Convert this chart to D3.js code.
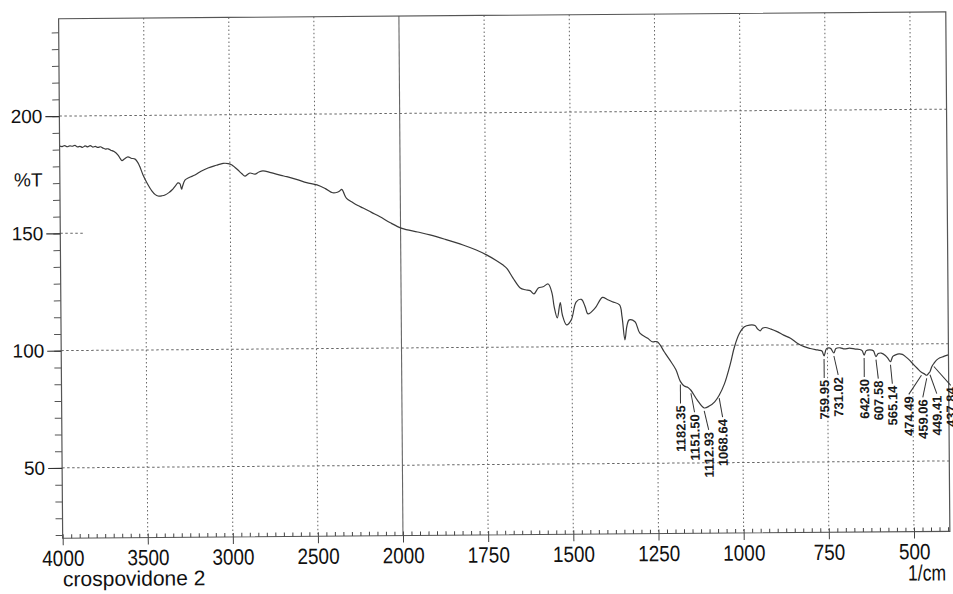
<!DOCTYPE html>
<html>
<head>
<meta charset="utf-8">
<script src="https://cdn.jsdelivr.net/npm/d3@7"></script>
<style>
  html, body { margin: 0; padding: 0; background: #fff; }
  svg { display: block; }
</style>
</head>
<body>
<svg id="chart" width="953" height="594"></svg>
<script>
// FTIR transmittance spectrum, crospovidone sample 2

const sampleName = "crospovidone 2";
const yTitle = "%T";
const xUnit = "1/cm";

const xMajorTicks = [4000, 3500, 3000, 2500, 2000, 1750, 1500, 1250, 1000, 750, 500];
const yMajorTicks = [50, 100, 150, 200];

// wavenumber (1/cm), descending
const wavenumbers = [
  4000, 3985, 3970, 3955, 3940, 3925, 3910, 3895, 3880, 3865, 3850, 3835, 3820, 3805, 3790, 3775,
  3760, 3745, 3730, 3715, 3700, 3680, 3657, 3645, 3634, 3620, 3599, 3580, 3557, 3540, 3529, 3511,
  3488, 3459, 3440, 3424, 3400, 3383, 3360, 3342, 3320, 3306, 3295, 3285, 3280, 3265, 3240, 3206,
  3170, 3129, 3080, 3040, 3010, 2988, 2970, 2953, 2930, 2912, 2895, 2882, 2853, 2830, 2806, 2760,
  2700, 2666, 2600, 2550, 2489, 2440, 2397, 2370, 2356, 2345, 2338, 2330, 2316, 2280, 2250, 2219,
  2170, 2120, 2060, 1996, 1950, 1914, 1870, 1817, 1780, 1747, 1720, 1700, 1689, 1671, 1650, 1635,
  1621, 1610, 1597, 1583, 1568, 1557, 1551, 1542, 1533, 1527, 1515, 1501, 1486, 1471, 1460, 1452,
  1431, 1409, 1395, 1380, 1359, 1352, 1344, 1338, 1331, 1314, 1300, 1277, 1264, 1249, 1229, 1213,
  1195, 1182.35, 1171, 1160, 1151.50, 1133, 1112.93, 1098, 1082, 1068.64, 1053, 1035, 1023, 1008, 993, 978,
  962, 955, 947, 940, 932, 915, 897, 878, 858, 838, 818, 800, 785, 774, 766, 759.95,
  753, 745, 740, 731.02, 725, 712, 700, 685, 668, 655, 648, 642.30, 636, 625, 615, 607.58,
  601, 592, 580, 572, 565.14, 558, 550, 540, 530, 520, 510, 498, 486, 474.49, 466, 459.06,
  453, 449.41, 444, 437.84, 430, 420, 410, 400, 395
];

// transmittance (%T) at each wavenumber above
const transmittance = [
  187.2, 187.0, 187.4, 186.9, 187.3, 187.1, 187.5, 186.8, 187.0, 186.6, 187.2, 186.8, 187.3, 186.7, 187.0, 186.5,
  186.8, 186.2, 185.8, 185.9, 185.3, 184.7, 183.2, 181.8, 180.8, 181.5, 182.4, 181.8, 181.4, 179.8, 178.1, 174.6,
  171.2, 167.7, 166.2, 165.6, 165.7, 166.0, 167.0, 168.1, 170.0, 171.1, 170.8, 168.4, 169.5, 172.3, 173.4, 174.4,
  176.0, 177.4, 178.5, 179.3, 179.2, 178.6, 177.5, 176.4, 174.8, 173.8, 174.6, 175.1, 174.6, 175.5, 176.0, 175.2,
  174.0, 173.4, 172.0, 170.8, 169.8, 168.2, 166.4, 166.6, 167.1, 167.8, 167.3, 165.9, 164.0, 162.2, 160.9, 159.8,
  157.9, 156.0, 153.4, 151.0, 149.4, 148.1, 146.2, 143.7, 141.6, 139.3, 137.0, 135.0, 133.6, 129.4, 125.2, 124.4,
  124.0, 122.6, 125.1, 125.6, 126.8, 122.9, 117.1, 112.3, 118.8, 113.5, 109.3, 111.4, 119.1, 120.1, 117.0, 113.9,
  116.3, 120.9, 120.0, 119.0, 117.6, 112.6, 102.7, 108.5, 111.2, 110.4, 105.5, 103.3, 101.8, 101.8, 97.5, 94.0,
  89.8, 84.8, 82.8, 82.2, 81.0, 76.8, 73.4, 74.2, 76.0, 78.8, 83.6, 92.2, 99.2, 105.0, 107.9, 108.6,
  108.4, 107.0, 106.1, 107.2, 107.5, 106.8, 105.7, 104.2, 102.8, 100.7, 99.2, 98.4, 97.9, 97.6, 97.3, 95.2,
  98.2, 98.6, 98.3, 96.4, 98.3, 98.6, 98.1, 98.4, 98.0, 97.8, 97.3, 95.4, 97.3, 97.6, 97.2, 94.7,
  96.0, 96.2, 95.2, 93.8, 92.5, 94.8, 95.4, 95.8, 95.6, 94.5, 93.2, 91.3, 89.5, 87.9, 87.2, 86.6,
  87.5, 88.1, 90.2, 91.6, 93.0, 94.0, 94.5, 95.0, 95.2
];

// picked peaks (1/cm)
const peakWavenumbers = [1182.35, 1151.50, 1112.93, 1068.64, 759.95, 731.02, 642.30, 607.58, 565.14, 474.49, 459.06, 449.41, 437.84];
const peakLabels = ["1182.35", "1151.50", "1112.93", "1068.64", "759.95", "731.02", "642.30", "607.58", "565.14", "474.49", "459.06", "449.41", "437.84"];

const FONT = "'Liberation Sans', Arial, Helvetica, sans-serif";

const svg = d3.select("#chart");
svg.append("rect").attr("width", 953).attr("height", 594).attr("fill", "#fff");

// whole sheet sits slightly tilted
const g = svg.append("g").attr("transform", "rotate(-0.45 476 297)");

const plotLeft = 60.8, plotRight = 948, plotTop = 15.5, plotBottom = 535;

// compressed scale above 2000 1/cm, expanded below
const x = d3.scaleLinear().domain([4000, 2000, 395]).range([plotLeft, 401.1, 947.9]);
const y = d3.scaleLinear().domain([20, 241.5]).range([plotBottom, plotTop]);

// ---- grid ----
const grid = g.append("g");
grid.selectAll("line.vgrid")
  .data(xMajorTicks.filter(d => d !== 4000))
  .join("line")
  .attr("x1", d => x(d)).attr("x2", d => x(d))
  .attr("y1", plotTop).attr("y2", plotBottom)
  .attr("stroke", d => d === 2000 ? "#666" : "#666")
  .attr("stroke-width", d => d === 2000 ? 1.1 : 1)
  .attr("stroke-dasharray", d => d === 2000 ? null : "1.5,2.5");

grid.selectAll("line.hgrid")
  .data(yMajorTicks)
  .join("line")
  .attr("x1", plotLeft)
  .attr("x2", d => d === 150 ? plotLeft + 24 : plotRight)
  .attr("y1", d => y(d)).attr("y2", d => y(d))
  .attr("stroke", "#666")
  .attr("stroke-width", 1)
  .attr("stroke-dasharray", "2.5,2.5");

// ---- spectrum ----
const points = wavenumbers.map((w, i) => [w, transmittance[i]]);
const line = d3.line()
  .x(d => x(d[0]))
  .y(d => y(d[1]))
  .curve(d3.curveCatmullRom.alpha(0.5));

g.append("path")
  .datum(points)
  .attr("d", line)
  .attr("fill", "none")
  .attr("stroke", "#3a3a3a")
  .attr("stroke-width", 1.2)
  .attr("stroke-linejoin", "round");

// ---- frame ----
g.append("rect")
  .attr("x", plotLeft).attr("y", plotTop)
  .attr("width", plotRight - plotLeft).attr("height", plotBottom - plotTop)
  .attr("fill", "none").attr("stroke", "#555").attr("stroke-width", 1.2);

// ---- axes ----
const xMinor = d3.range(4000, 2000, -50).concat(d3.range(2000, 395, -25));
const yStep = 50 / 7;
const yMinor = d3.range(-4, 27).map(k => 50 + k * yStep).filter(v => v >= 20 && v <= 241);

const xMinorAxis = g.append("g")
  .attr("transform", `translate(0,${plotBottom})`)
  .call(d3.axisBottom(x).tickValues(xMinor).tickSize(-4).tickFormat(""));
xMinorAxis.select(".domain").remove();
xMinorAxis.selectAll("line").attr("stroke", "#444");

const xAxis = g.append("g")
  .attr("transform", `translate(0,${plotBottom})`)
  .call(d3.axisBottom(x).tickValues(xMajorTicks).tickSize(7).tickPadding(5).tickFormat(d3.format("d")));
xAxis.select(".domain").remove();
xAxis.selectAll("line").attr("stroke", "#444");
xAxis.selectAll("text")
  .attr("font-family", FONT).attr("font-size", 22).attr("fill", "#111")
  .each(function () {
    const w = this.getComputedTextLength();
    d3.select(this).attr("textLength", w * 0.86).attr("lengthAdjust", "spacingAndGlyphs");
  });

const yMinorAxis = g.append("g")
  .attr("transform", `translate(${plotLeft},0)`)
  .call(d3.axisLeft(y).tickValues(yMinor).tickSize(7).tickFormat(""));
yMinorAxis.select(".domain").remove();
yMinorAxis.selectAll("line").attr("stroke", "#555");

const yAxis = g.append("g")
  .attr("transform", `translate(${plotLeft},0)`)
  .call(d3.axisLeft(y).tickValues(yMajorTicks).tickSize(14).tickPadding(3).tickFormat(d3.format("d")));
yAxis.select(".domain").remove();
yAxis.selectAll("line").attr("stroke", "#333").attr("stroke-width", 1.2);
yAxis.selectAll("text")
  .attr("font-family", FONT).attr("font-size", 19).attr("fill", "#111");

// ---- axis titles ----
g.append("text")
  .attr("x", 15).attr("y", 183)
  .attr("font-family", FONT).attr("font-size", 19).attr("fill", "#111")
  .text(yTitle);

g.append("text")
  .attr("x", plotLeft).attr("y", 583)
  .attr("font-family", FONT).attr("font-size", 21).attr("fill", "#111")
  .text(sampleName);

g.append("text")
  .attr("x", 944).attr("y", 584)
  .attr("text-anchor", "end")
  .attr("font-family", FONT).attr("font-size", 22).attr("fill", "#111")
  .text(xUnit)
  .each(function () {
    const w = this.getComputedTextLength();
    d3.select(this).attr("textLength", w * 0.8).attr("lengthAdjust", "spacingAndGlyphs");
  });

// ---- peak labels ----
function tAt(w) {
  for (let i = 0; i < wavenumbers.length - 1; i++) {
    const a = wavenumbers[i], b = wavenumbers[i + 1];
    if (w <= a && w >= b) {
      const f = (a - w) / (a - b);
      return transmittance[i] + f * (transmittance[i + 1] - transmittance[i]);
    }
  }
  return transmittance[transmittance.length - 1];
}

const peaks = peakWavenumbers.map((w, i) => ({ w, label: peakLabels[i], t: tAt(w) }))
  .sort((a, b) => x(a.w) - x(b.w));

// spread crowded labels so they do not overlap
const gap = 14;
peaks.forEach((p, i) => {
  p.px = x(p.w);
  p.lx = i === 0 ? p.px : Math.max(p.px, peaks[i - 1].lx + gap);
});
for (let i = peaks.length - 1; i >= 0; i--) {
  const bound = i === peaks.length - 1 ? 950 : peaks[i + 1].lx - gap;
  peaks[i].lx = Math.min(peaks[i].lx, bound);
}
peaks.forEach(p => {
  p.cy = y(p.t);
  p.top = p.cy + 24;
});

const pk = g.append("g");
pk.selectAll("line")
  .data(peaks)
  .join("line")
  .attr("x1", d => d.px).attr("y1", d => d.cy + 3)
  .attr("x2", d => d.lx).attr("y2", d => d.top - 2)
  .attr("stroke", "#333").attr("stroke-width", 1);

pk.selectAll("text")
  .data(peaks)
  .join("text")
  .attr("transform", d => `translate(${d.lx},${d.top}) rotate(-90)`)
  .attr("text-anchor", "end")
  .attr("dy", "0.36em")
  .attr("font-family", FONT).attr("font-size", 13).attr("font-weight", "bold").attr("fill", "#1a1a1a")
  .text(d => d.label);
</script>
</body>
</html>
